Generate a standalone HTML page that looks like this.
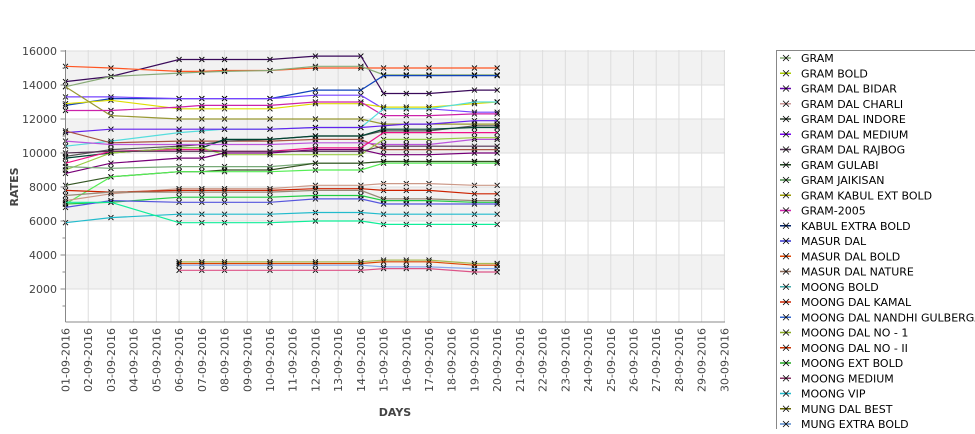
<!DOCTYPE html>
<html><head><meta charset="utf-8"><style>
body{margin:0;background:#fff;width:975px;height:429px;overflow:hidden;font-family:"Liberation Sans","DejaVu Sans",sans-serif}
</style></head><body>
<svg id="s" width="975" height="429" xmlns="http://www.w3.org/2000/svg" font-family="DejaVu Sans, Liberation Sans, sans-serif">
<g id="bg"></g><g id="grid"></g><g id="lines"></g><g id="axes"></g>
<text x="395" y="416" font-size="11" font-weight="bold" fill="#444" text-anchor="middle">DAYS</text>
<text transform="translate(18,187) rotate(-90)" font-size="11" font-weight="bold" fill="#444" text-anchor="middle">RATES</text>
<rect x="776.5" y="50.5" width="210" height="390" fill="#fff" stroke="#888"/>
<g id="leg" font-size="11" fill="#000"></g>
</svg>
<script>
var NS="http://www.w3.org/2000/svg";
function el(p,t,a,tx){var e=document.createElementNS(NS,t);for(var k in a)e.setAttribute(k,a[k]);if(tx)e.textContent=tx;document.getElementById(p).appendChild(e);return e;}
var L=65.5,R=725,T=50,B=322;
function X(d){return L+(d-1)*22.72;}
function Y(v){return 323-v*0.017;}
[[14000,16000],[10000,12000],[6000,8000],[2000,4000]].forEach(function(b){el("bg","rect",{x:L,y:Y(b[1]),width:R-L,height:Y(b[0])-Y(b[1]),fill:"#f2f2f2"});});
for(var d=1;d<=30;d++){el("grid","line",{x1:X(d),x2:X(d),y1:T,y2:B,stroke:"#ddd"});
 var lx=X(d)+4;el("axes","text",{transform:"translate("+lx+",328) rotate(-90)","font-size":"11",fill:"#444","text-anchor":"end"},(d<10?"0":"")+d+"-09-2016");}
for(var v=2000;v<=16000;v+=2000){el("grid","line",{x1:L,x2:R,y1:Y(v),y2:Y(v),stroke:"#ddd"});
 el("axes","text",{x:57,y:Y(v)+4,"font-size":"11",fill:"#444","text-anchor":"end"},v);
 el("axes","line",{x1:L-5,x2:L,y1:Y(v),y2:Y(v),stroke:"#888"});}
for(var v=1000;v<=16000;v+=2000)el("axes","line",{x1:L-3,x2:L,y1:Y(v),y2:Y(v),stroke:"#888"});
el("axes","line",{x1:L,x2:L,y1:T,y2:B,stroke:"#888"});
el("axes","line",{x1:L,x2:R,y1:B,y2:B,stroke:"#888"});
var D=[1,3,6,7,8,10,12,14,15,16,17,19,20];
var S=[
["#3a0a5a",[14200,14500,15500,15500,15500,15500,15700,15700,13500,13500,13500,13700,13700]],
["#ff5522",[15100,15000,14800,14800,14850,14850,15000,15000,15000,15000,15000,15000,15000]],
["#88aa77",[13900,14500,14700,14750,14800,14850,15100,15100,14600,14600,14600,14600,14600]],
["#1144bb",[12800,13200,13200,13200,13200,13200,13700,13700,14550,14550,14550,14550,14550]],
["#7744ff",[13300,13300,13200,13200,13200,13200,13400,13400,12600,12600,12600,12400,12400]],
["#dddd00",[12900,13100,12600,12600,12600,12600,12900,12900,12700,12700,12700,12900,13000]],
["#999933",[13900,12200,12000,12000,12000,12000,12000,12000,11700,11700,11700,11700,11700]],
["#cc22aa",[12500,12500,12700,12800,12800,12800,13000,13000,12200,12200,12200,12300,12300]],
["#55dddd",[10400,10700,11200,11300,11400,11400,11500,11500,12600,12600,12600,13000,13000]],
["#6622ee",[11200,11400,11400,11400,11400,11400,11500,11500,11600,11700,11700,11900,11900]],
["#aa5544",[11300,10600,10700,10700,10700,10700,10800,10800,10200,10200,10200,10200,10200]],
["#555555",[9800,10200,10400,10500,10700,10800,11000,11000,11300,11300,11300,11600,11600]],
["#004433",[9700,10000,10300,10300,10800,10800,11000,11000,11400,11400,11400,11500,11500]],
["#bb55dd",[10700,10500,10500,10500,10500,10500,10600,10600,10500,10500,10500,10800,10800]],
["#ee1188",[9400,10100,10200,10200,10100,10100,10300,10300,11200,11200,11200,11200,11200]],
["#99cc44",[9000,10000,10300,10300,9900,9900,9900,9900,10800,10800,10800,10900,10900]],
["#770077",[8800,9400,9700,9700,10000,10000,10200,10200,9900,9900,9900,10000,10000]],
["#553355",[10000,10100,10100,10100,10100,10100,10100,10100,10400,10400,10400,10400,10400]],
["#77aa77",[9200,9100,9200,9200,9200,9200,9400,9400,9500,9500,9500,9500,9500]],
["#335522",[8100,8600,8900,8900,9000,9000,9400,9400,9500,9500,9500,9500,9500]],
["#55ee55",[7000,8600,8900,8900,8900,8900,9000,9000,9400,9400,9400,9400,9400]],
["#cc9988",[7200,7600,7900,7900,7900,7900,8100,8100,8200,8200,8200,8100,8100]],
["#cc2200",[7800,7700,7800,7800,7800,7800,7900,7900,7800,7800,7800,7600,7600]],
["#998877",[7500,7700,7700,7700,7700,7700,7800,7800,7300,7300,7300,7200,7200]],
["#22cc44",[7000,7100,7400,7400,7400,7400,7500,7500,7200,7200,7200,7100,7100]],
["#5555dd",[6800,7200,7100,7100,7100,7100,7300,7300,7000,7000,7000,7000,7000]],
["#22bbcc",[5900,6200,6400,6400,6400,6400,6500,6500,6400,6400,6400,6400,6400]],
["#11ee99",[7100,7100,5900,5900,5900,5900,6000,6000,5800,5800,5800,5800,5800]],
["#aabb55",[null,null,3600,3600,3600,3600,3600,3600,3700,3700,3700,3500,3500]],
["#dd4400",[null,null,3500,3500,3500,3500,3500,3500,3600,3600,3600,3400,3400]],
["#88aaee",[null,null,3400,3400,3400,3400,3400,3400,3300,3300,3300,3200,3200]],
["#dd5588",[null,null,3100,3100,3100,3100,3100,3100,3200,3200,3200,3000,3000]]
];
S.forEach(function(s){var p="",f=true;s[1].forEach(function(v,i){if(v==null)return;var x=X(D[i]),y=Y(v);p+=(f?"M":"L")+x.toFixed(1)+" "+y.toFixed(1);f=false;
 el("lines","path",{d:"M"+(x-2.5)+" "+(y-2.5)+"l5 5M"+(x-2.5)+" "+(y+2.5)+"l5 -5",stroke:"#000","stroke-width":"0.9"});});
 el("lines","path",{d:p,stroke:s[0],fill:"none","stroke-width":"1.2"});});
var names=["GRAM","GRAM BOLD","GRAM DAL BIDAR","GRAM DAL CHARLI","GRAM DAL INDORE","GRAM DAL MEDIUM","GRAM DAL RAJBOG","GRAM GULABI","GRAM JAIKISAN","GRAM KABUL EXT BOLD","GRAM-2005","KABUL EXTRA BOLD","MASUR DAL","MASUR DAL BOLD","MASUR DAL NATURE","MOONG BOLD","MOONG DAL KAMAL","MOONG DAL NANDHI GULBERGA","MOONG DAL NO - 1","MOONG DAL NO - II","MOONG EXT BOLD","MOONG MEDIUM","MOONG VIP","MUNG DAL BEST","MUNG EXTRA BOLD"];
var lc=["#88aa77","#aacc00","#6600aa","#cc9999","#334433","#7700ee","#553355","#224422","#448844","#999900","#cc22aa","#002266","#3333cc","#dd4400","#886655","#44aaaa","#cc2200","#3366cc","#88aa22","#cc3300","#22aa22","#883366","#22bbcc","#666600","#5588cc"];
names.forEach(function(n,i){var y=58+i*15.25;
 el("leg","line",{x1:780,x2:791,y1:y,y2:y,stroke:lc[i],"stroke-width":"1.5"});
 el("leg","path",{d:"M783 "+(y-3)+"l6 6M783 "+(y+3)+"l6 -6",stroke:"#000","stroke-width":"0.8"});
 el("leg","text",{x:801,y:y+4},n);});
</script>
</body></html>
